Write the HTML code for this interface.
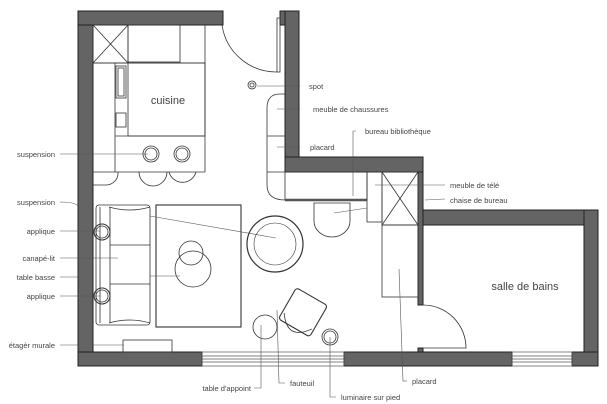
<!DOCTYPE html>
<html><head><meta charset="utf-8"><style>
html,body{margin:0;padding:0;background:#fff;}
svg{display:block;}
text{font-family:"Liberation Sans",sans-serif;fill:#444;stroke:none;}
.l{font-size:7.5px;fill:#555;}
</style></head><body>
<svg width="607" height="404" viewBox="0 0 607 404" xmlns="http://www.w3.org/2000/svg">
<g fill="none" stroke="#222" stroke-width="1">
<g fill="#646464" stroke="#222">
<rect x="78" y="11" width="15" height="355"/>
<rect x="78" y="11" width="145" height="14"/>
<rect x="280" y="11" width="19" height="14"/>
<rect x="285" y="11" width="14" height="161"/>
<rect x="285" y="157" width="138" height="15"/>
<rect x="418" y="172" width="5" height="133"/>
<rect x="423" y="210" width="175" height="15"/>
<rect x="584" y="210" width="14" height="156"/>
<rect x="78" y="352" width="124" height="14"/>
<rect x="344" y="352" width="168" height="14"/>
<rect x="572" y="352" width="26" height="14"/>
<rect x="418" y="348" width="5" height="4"/>
</g>
<g stroke="#555" stroke-width="0.7">
<rect x="202" y="352" width="142" height="14"/>
<line x1="202" y1="356" x2="344" y2="356"/><line x1="202" y1="359" x2="344" y2="359"/><line x1="202" y1="362" x2="344" y2="362"/>
<rect x="512" y="352" width="60" height="14"/>
<line x1="512" y1="356" x2="572" y2="356"/><line x1="512" y1="359" x2="572" y2="359"/><line x1="512" y1="362" x2="572" y2="362"/>
</g>
<g stroke="#333" stroke-width="0.8">
<rect x="93" y="25" width="35" height="38"/>
<line x1="93" y1="25" x2="128" y2="63"/><line x1="128" y1="25" x2="93" y2="63"/>
<rect x="128" y="25" width="52" height="37"/>
<line x1="205" y1="25" x2="205" y2="172"/>
<line x1="93" y1="63" x2="205" y2="63"/>
<rect x="128" y="63" width="77" height="73"/>
<line x1="115" y1="63" x2="115" y2="172"/>
<rect x="116" y="66" width="10" height="32"/><rect x="118" y="68" width="6" height="28"/>
<rect x="116" y="113" width="10" height="14"/>
<line x1="115" y1="136" x2="205" y2="136"/>
<line x1="93" y1="172" x2="205" y2="172"/>
<circle cx="151" cy="154" r="8"/><circle cx="151" cy="154" r="6"/>
<circle cx="182" cy="154" r="8"/><circle cx="182" cy="154" r="6"/>
<path d="M139 172 A14 14 0 0 0 167 172"/>
<path d="M169 172 A14 14 0 0 0 196 172"/>
<path d="M118 172 A12 12 0 0 1 106 185 L93 185"/>
<path d="M222 25 A55 55 0 0 0 277 72"/>
<path d="M277 72 L277 18 L280 18 L280 72 Z"/>
<circle cx="252" cy="85" r="4"/><circle cx="252" cy="85" r="2"/>
<path d="M285 94 L280 94 Q267 94 267 108 L267 185 Q267 200 285 200"/>
<line x1="267" y1="136" x2="285" y2="136"/>
<line x1="267" y1="172" x2="285" y2="172"/>
<rect x="285" y="172" width="82" height="28"/>
<line x1="285" y1="200" x2="367" y2="200" stroke-width="2.5" stroke="#555"/>
<rect x="367" y="172" width="15" height="50"/>
<rect x="382" y="172" width="36" height="53"/>
<line x1="382" y1="172" x2="418" y2="225"/><line x1="418" y1="172" x2="382" y2="225"/>
<rect x="382" y="225" width="36" height="72"/>
<path d="M314 203 L350 203 L350 221 A18 16 0 0 1 314 221 Z"/>
<circle cx="275" cy="244" r="28" stroke-width="1.2"/>
<circle cx="275" cy="244" r="21" stroke-width="0.6"/>
<rect x="96" y="205" width="54" height="120" rx="3"/>
<path d="M109 207 Q130 213 150 207"/><path d="M109 323 Q130 317 150 323"/>
<line x1="110" y1="207" x2="110" y2="323"/>
<line x1="100" y1="207" x2="100" y2="323"/>
<line x1="110" y1="245" x2="150" y2="245"/><line x1="110" y1="284" x2="150" y2="284"/>
<circle cx="102" cy="232" r="8" stroke-width="1.1"/><circle cx="102" cy="232" r="6"/>
<circle cx="102" cy="296" r="8" stroke-width="1.1"/><circle cx="102" cy="296" r="6"/>
<rect x="156" y="205" width="85" height="122" stroke-width="1.1"/>
<circle cx="191" cy="253" r="12"/>
<circle cx="193" cy="269" r="18"/>
<rect x="123" y="340" width="49" height="12"/>
<g transform="rotate(30 302 314)">
<rect x="284" y="294" width="36" height="36" rx="3" stroke-width="1.1"/>
<path d="M286 322 Q302 345 318 322"/>
</g>
<circle cx="265" cy="327" r="12"/>
<circle cx="330" cy="337" r="8"/><circle cx="330" cy="337" r="6"/>
<path d="M423 305 A43 43 0 0 1 466 348 L423 348"/>
</g>
<g stroke="#555" stroke-width="0.6" fill="none">
<line x1="60" y1="154" x2="148" y2="154"/>
<path d="M60 202 Q75 202 78 206"/>
<line x1="60" y1="231" x2="100" y2="231"/>
<line x1="60" y1="258" x2="118" y2="258"/>
<line x1="60" y1="277" x2="78" y2="277"/>
<line x1="60" y1="296" x2="100" y2="296"/>
<line x1="60" y1="345" x2="78" y2="345"/>
<line x1="93" y1="345" x2="124" y2="345"/>
<line x1="150" y1="276" x2="180" y2="276"/>
<line x1="150" y1="216" x2="276" y2="238"/>
<line x1="257" y1="86" x2="300" y2="86"/>
<line x1="277" y1="109" x2="300" y2="109"/>
<line x1="277" y1="147" x2="300" y2="147"/>
<path d="M356 131 L353 131 L353 196"/>
<line x1="334" y1="213" x2="367" y2="208"/>
<line x1="375" y1="185" x2="445" y2="185"/>
<line x1="425" y1="200" x2="445" y2="199"/>
<line x1="399" y1="269" x2="403" y2="381"/><line x1="403" y1="381" x2="407" y2="381"/>
<path d="M261 325 L261 388 L254 388"/>
<path d="M277 310 L279 383 L285 383"/>
<path d="M330 337 L330 397 L336 397"/>
</g>
<text x="168" y="104" style="font-size:11px" text-anchor="middle">cuisine</text>
<text x="525" y="290" style="font-size:11px" text-anchor="middle">salle de bains</text>
<g class="l">
<text x="55" y="157" text-anchor="end">suspension</text>
<text x="55" y="205" text-anchor="end">suspension</text>
<text x="55" y="234" text-anchor="end">applique</text>
<text x="55" y="261" text-anchor="end">canapé-lit</text>
<text x="55" y="280" text-anchor="end">table basse</text>
<text x="55" y="299" text-anchor="end">applique</text>
<text x="55" y="348" text-anchor="end">étagèr murale</text>
<text x="309" y="89">spot</text>
<text x="313" y="112">meuble de chaussures</text>
<text x="310" y="150">placard</text>
<text x="365" y="134">bureau bibliothèque</text>
<text x="450" y="188">meuble de télé</text>
<text x="450" y="203">chaise de bureau</text>
<text x="251" y="391" text-anchor="end">table d'appoint</text>
<text x="290" y="386">fauteuil</text>
<text x="341" y="400">luminaire sur pied</text>
<text x="412" y="384">placard</text>
</g>
</svg>
</body></html>
